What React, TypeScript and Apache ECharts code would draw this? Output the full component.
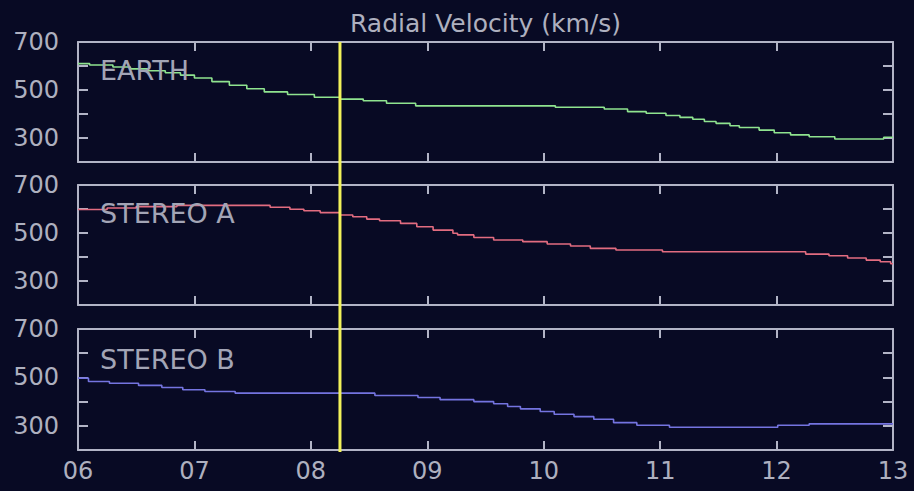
import React, { useEffect, useRef } from "react";
import * as echarts from "echarts";

// ---- Data (time in days of month, value in km/s) ----
const earthTimes = [6.0, 6.1, 6.3, 6.45, 6.6, 6.75, 6.88, 7.0, 7.15, 7.3, 7.45, 7.6, 7.8, 8.03, 8.25, 8.45, 8.65, 8.9, 10.1, 10.52, 10.72, 10.88, 11.05, 11.17, 11.28, 11.38, 11.48, 11.6, 11.68, 11.85, 11.98, 12.12, 12.28, 12.5, 12.92, 13.0];
const earthValues = [610, 604, 596, 588, 580, 572, 562, 550, 535, 520, 505, 492, 481, 470, 462, 455, 445, 434, 428, 421, 410, 403, 394, 386, 378, 369, 361, 351, 344, 333, 322, 313, 305, 296, 303, 303];

const stereoATimes = [6.0, 6.25, 6.5, 6.85, 7.65, 7.82, 7.94, 8.08, 8.25, 8.36, 8.48, 8.59, 8.77, 8.91, 9.05, 9.22, 9.26, 9.4, 9.57, 9.82, 10.03, 10.23, 10.4, 10.62, 11.02, 12.25, 12.45, 12.61, 12.77, 12.89, 12.98, 13.0];
const stereoAValues = [598, 604, 610, 615, 607, 599, 593, 585, 575, 568, 558, 551, 540, 526, 512, 499, 492, 481, 471, 464, 454, 446, 436, 429, 422, 412, 405, 396, 387, 380, 372, 372];

const stereoBTimes = [6.0, 6.09, 6.27, 6.52, 6.72, 6.9, 7.09, 7.35, 8.55, 8.92, 9.11, 9.4, 9.57, 9.69, 9.8, 9.97, 10.09, 10.26, 10.43, 10.6, 10.8, 11.08, 12.01, 12.28, 13.0];
const stereoBValues = [497, 483, 476, 467, 458, 449, 442, 435, 425, 417, 408, 400, 391, 380, 370, 359, 348, 338, 327, 313, 302, 294, 302, 308, 308];

const panelNames = ["EARTH", "STEREO A", "STEREO B"];
const xTickLabels = ["06", "07", "08", "09", "10", "11", "12", "13"];
const yTickLabels = [300, 500, 700];
const markerTime = 8.25;
const xMin = 6;
const xMax = 13;
const yMin = 200;
const yMax = 700;
const titleText = "Radial Velocity (km/s)";

const BG = "#080a24";
const AXIS = "#b2b4c6";
const TEXT = "#aeb0bf";
const LABEL = "#a3a5b6";
const COLORS = ["#8fe48f", "#e26c80", "#7474e0"];
const FONT = "DejaVu Sans";

const grids = [
  { left: 78, right: 21, top: 42, height: 120 },
  { left: 78, right: 21, top: 185, height: 120 },
  { left: 78, right: 21, top: 329, height: 121 },
];

export default function App() {
  const ref = useRef<HTMLDivElement>(null);

  useEffect(() => {
    if (!ref.current) return;
    const chart = echarts.init(ref.current, undefined, { renderer: "svg" });

    const zip = (t: number[], v: number[]) => t.map((x, i) => [x, v[i]]);
    const seriesData = [
      zip(earthTimes, earthValues),
      zip(stereoATimes, stereoAValues),
      zip(stereoBTimes, stereoBValues),
    ];

    const lineStyle = { color: AXIS, width: 2 };
    const xAxes: any[] = [];
    const yAxes: any[] = [];
    grids.forEach((_, i) => {
      const isBottom = i === grids.length - 1;
      xAxes.push({
        type: "value",
        gridIndex: i,
        position: "bottom",
        min: xMin,
        max: xMax,
        interval: 1,
        axisLine: { show: true, onZero: false, lineStyle },
        axisTick: { show: true, inside: true, length: 9, lineStyle },
        splitLine: { show: false },
        axisLabel: {
          show: isBottom,
          margin: 9,
          color: TEXT,
          fontFamily: FONT,
          fontSize: 24,
          showMinLabel: true,
          showMaxLabel: true,
          formatter: (v: number) => xTickLabels[Math.round(v - xMin)] ?? "",
        },
      });
      xAxes.push({
        type: "value",
        gridIndex: i,
        position: "top",
        min: xMin,
        max: xMax,
        interval: 1,
        axisLine: { show: true, onZero: false, lineStyle },
        axisTick: { show: true, inside: true, length: 9, lineStyle },
        splitLine: { show: false },
        axisLabel: { show: false },
      });
      yAxes.push({
        type: "value",
        gridIndex: i,
        position: "left",
        min: yMin,
        max: yMax,
        interval: 100,
        axisLine: { show: true, onZero: false, lineStyle },
        axisTick: { show: true, inside: true, length: 10, lineStyle },
        splitLine: { show: false },
        axisLabel: {
          show: true,
          margin: 19,
          color: TEXT,
          fontFamily: FONT,
          fontSize: 24,
          showMinLabel: true,
          showMaxLabel: true,
          formatter: (v: number) => (yTickLabels.includes(v) ? String(v) : ""),
        },
      });
      yAxes.push({
        type: "value",
        gridIndex: i,
        position: "right",
        min: yMin,
        max: yMax,
        interval: 100,
        axisLine: { show: true, onZero: false, lineStyle },
        axisTick: { show: true, inside: true, length: 10, lineStyle },
        splitLine: { show: false },
        axisLabel: { show: false },
      });
    });

    const series = seriesData.map((d, i) => ({
      type: "line",
      name: panelNames[i],
      xAxisIndex: i * 2,
      yAxisIndex: i * 2,
      data: d,
      step: "end",
      showSymbol: false,
      symbol: "none",
      lineStyle: { color: COLORS[i], width: 1.6 },
      z: 3,
    }));

    const gridCenterX = grids[0].left + (914 - grids[0].left - grids[0].right) / 2;

    const textGraphics: any[] = [
      {
        id: "title",
        type: "text",
        x: gridCenterX,
        y: 23,
        style: {
          text: titleText,
          fill: TEXT,
          font: `25px "${FONT}"`,
          textAlign: "center",
          textVerticalAlign: "middle",
        },
        z: 10,
      },
      ...panelNames.map((name, i) => ({
        id: "label" + i,
        type: "text",
        x: 100,
        y: grids[i].top + (i === 2 ? 30 : 28),
        style: {
          text: name,
          fill: LABEL,
          font: `27px "${FONT}"`,
          textAlign: "left",
          textVerticalAlign: "middle",
        },
        z: 10,
      })),
    ];

    chart.setOption({
      animation: false,
      backgroundColor: BG,
      grid: grids.map((g) => ({ ...g, show: false })),
      xAxis: xAxes,
      yAxis: yAxes,
      series,
      graphic: textGraphics,
    });

    const mx = chart.convertToPixel({ xAxisIndex: 0 }, markerTime) as number;
    const yTop = chart.convertToPixel({ yAxisIndex: 0 }, yMax) as number;
    const yBot = chart.convertToPixel({ yAxisIndex: 4 }, yMin) as number;
    chart.setOption({
      graphic: [
        ...textGraphics,
        {
          id: "marker",
          type: "line",
          shape: { x1: mx, y1: yTop, x2: mx, y2: yBot + 2 },
          style: { stroke: "#f2f25a", lineWidth: 3 },
          z: 20,
        },
      ],
    });

    return () => chart.dispose();
  }, []);

  return (
    <div
      ref={ref}
      style={{ position: "fixed", left: 0, top: 0, width: 914, height: 491 }}
    />
  );
}
